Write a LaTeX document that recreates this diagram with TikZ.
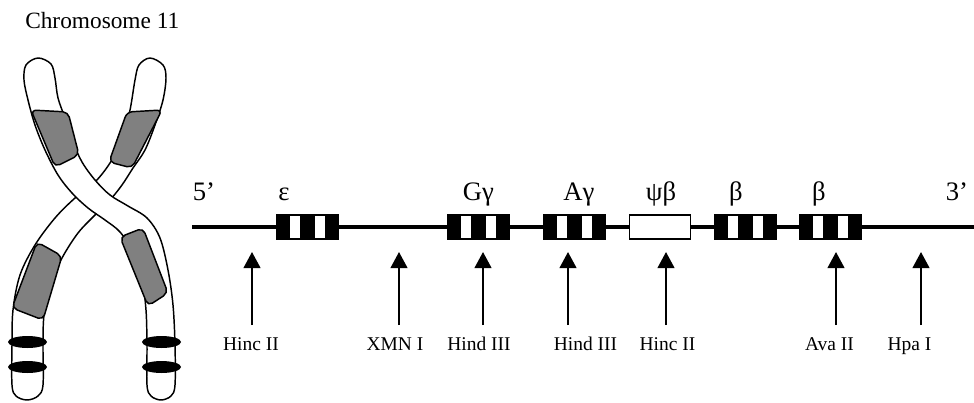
\documentclass[tikz,border=0pt]{standalone}
\usepackage{fontspec}
\setmainfont{Liberation Serif}
\usetikzlibrary{arrows.meta}

\begin{document}
\begin{tikzpicture}[x=0.75pt,y=0.75pt,yscale=-1,xscale=1,
  arm/.style={draw=black, line width=1.1pt, fill=white},
  band/.style={draw=black, line width=1.1pt, fill={rgb, 255:red, 128; green, 128; blue, 128}, rounded corners=4},
  ring/.style={fill=black},
  site/.style={line width=1.5pt, -{Triangle[length=12pt,width=12.5pt]}},
  gene/.style={font=\fontsize{20}{22}\selectfont, anchor=base, inner sep=0pt},
  enzyme/.style={font=\fontsize{14.6}{16}\selectfont, anchor=base, inner sep=0pt}]
\useasboundingbox (0,0) rectangle (974,403);

%Text: title
\node[font=\fontsize{17.5}{20}\selectfont, anchor=base west, inner sep=0pt] (title) at (25,29) {Chromosome 11};

%Shape: chromatid from upper right to lower left
\draw[arm] plot[smooth cycle, tension=0.55] coordinates {
  (150,58) (163,65) (166,78) (163,100) (155,125) (145,150) (133,168)
  (122,185) (110,200) (95,215) (78,233) (62,258) (50,285) (44,315)
  (43,345) (43,385) (38,396) (27,400) (16,396) (12,385) (12,345)
  (13,310) (20,275) (35,245) (55,218) (75,198) (95,182) (110,163)
  (122,140) (130,110) (135,80) (139,65)};
%Shape: chromatid from upper left to lower right
\draw[arm] plot[smooth cycle, tension=0.55] coordinates {
  (38,58) (51,64) (55,78) (58,98) (65,118) (73,142) (82,162) (95,180)
  (110,195) (128,206) (147,218) (160,238) (168,270) (173,305) (175,345)
  (175,385) (171,396) (161,400) (151,396) (147,385) (147,345) (146,310)
  (142,280) (133,252) (120,232) (105,220) (88,208) (72,193) (58,175)
  (45,150) (35,125) (28,100) (24,80) (26,65)};

%Shape: gray bands
\draw[band] (31,110) -- (68,112) -- (79,155) -- (55,167) -- cycle;
\draw[band] (127,112) -- (162,110) -- (132,168) -- (109,162) -- cycle;
\draw[band] (37,242) -- (62,256) -- (43,320) -- (12,308) -- cycle;
\draw[band] (120,237) -- (143,228) -- (168,293) -- (148,306) -- cycle;

%Shape: Ellipse
\fill[ring] (27.5,342) ellipse (19.5 and 6);
\fill[ring] (27.5,367) ellipse (19.5 and 6);
\fill[ring] (161.5,342) ellipse (19.5 and 6);
\fill[ring] (161.5,367) ellipse (19.5 and 6);

%Straight Lines: gene cluster
\draw[line width=3.4pt] (192,227) -- (974,227);

%Shape: Rectangle (exons)
\foreach \x in {276,447,543,714,799} {
  \fill (\x,214) rectangle ++(63,26);
  \fill[white] (\x+14,216) rectangle ++(10,22);
  \fill[white] (\x+39,216) rectangle ++(10,22);
}
\draw[line width=1.2pt, fill=white] (629.5,214.8) rectangle (690.5,239.2);

%Text: genes
\node[gene] (five) at (204,200) {5’};
\node[gene] (eps) at (284,200) {ε};
\node[gene] (ggam) at (478.5,200) {Gγ};
\node[gene] (agam) at (579,200) {Aγ};
\node[gene] (psib) at (661,200) {ψβ};
\node[gene] (beta1) at (736,200) {β};
\node[gene] (beta2) at (819,200) {β};
\node[gene] (three) at (957,200) {3’};

%Straight Lines: restriction sites
\foreach \x [count=\i] in {252,399,483,568,666,836,921} {
  \coordinate (tail\i) at (\x,325);
  \coordinate (tip\i) at (\x,252);
  \draw[site] (tail\i) -- (tip\i);
}

%Text: enzymes
\node[enzyme] (hinc1) at (251,350) {Hinc II};
\node[enzyme] (xmn) at (395,350) {XMN I};
\node[enzyme] (hind1) at (479,350) {Hind III};
\node[enzyme] (hind2) at (585.5,350) {Hind III};
\node[enzyme] (hinc2) at (667.5,350) {Hinc II};
\node[enzyme] (ava) at (829.5,350) {Ava II};
\node[enzyme] (hpa) at (909.5,350) {Hpa I};

\end{tikzpicture}
\end{document}
